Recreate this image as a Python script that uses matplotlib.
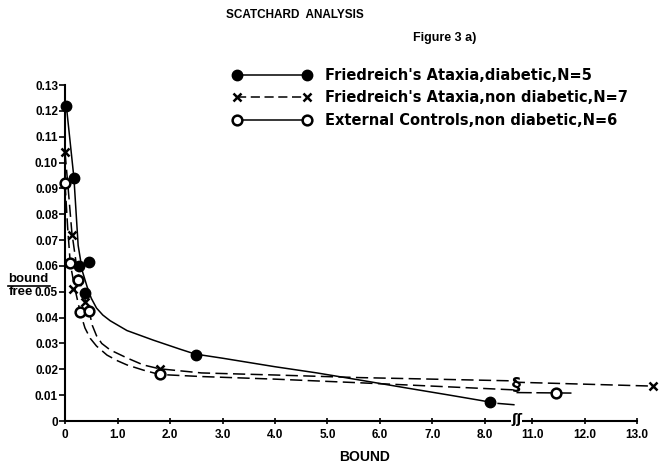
"""Scatchard analysis, Figure 3 a) - redrawn with matplotlib."""

import matplotlib

matplotlib.use("Agg")

import matplotlib.pyplot as plt
import numpy as np
from matplotlib.lines import Line2D
from matplotlib.ticker import FixedLocator

# measured points (bound, bound/free)
diab_x = [0.02, 0.17, 0.26, 0.45, 0.39, 2.5, 8.1]
diab_y = [0.122, 0.094, 0.060, 0.0615, 0.0495, 0.0257, 0.0073]

nondiab_x = [0.0, 0.13, 0.16, 0.39, 1.8, 13.3]
nondiab_y = [0.104, 0.072, 0.051, 0.046, 0.0202, 0.0135]

ctrl_x = [0.0, 0.1, 0.25, 0.29, 0.46, 1.8, 11.45]
ctrl_y = [0.092, 0.061, 0.0545, 0.042, 0.0425, 0.018, 0.0108]

# hand drawn fitted curves
diab_curve_x = [0.02, 0.17, 0.25, 0.33, 0.42, 0.5, 0.6, 0.72, 0.86, 1.18,
                1.68, 2.19, 2.48, 3.0, 4.0, 4.8, 5.6, 6.5, 7.3, 7.85, 8.1]
diab_curve_y = [0.123, 0.094, 0.068, 0.058, 0.052, 0.0475, 0.0437, 0.041,
                0.0388, 0.035, 0.0313, 0.0278, 0.0259, 0.0243, 0.021, 0.0186,
                0.0159, 0.0128, 0.0101, 0.0082, 0.0073]
diab_tail_x = [8.25, 8.55]
diab_tail_y = [0.0068, 0.0063]

nondiab_curve_x = [0.0, 0.06, 0.13, 0.22, 0.33, 0.46, 0.52, 0.6, 0.7, 0.86,
                   1.18, 1.49, 1.8, 2.6, 4.0, 5.6, 7.0, 8.6, 10.7, 13.3]
nondiab_curve_y = [0.104, 0.090, 0.073, 0.060, 0.050, 0.0425, 0.037, 0.033,
                   0.030, 0.0275, 0.0244, 0.0217, 0.0202, 0.0186, 0.0178,
                   0.0168, 0.0162, 0.0155, 0.015, 0.0135]

ctrl_curve_x = [0.0, 0.05, 0.1, 0.18, 0.29, 0.38, 0.48, 0.6, 0.8, 1.0, 1.18,
                1.49, 1.8, 2.6, 4.0, 5.6, 7.0, 8.6]
ctrl_curve_y = [0.092, 0.075, 0.061, 0.052, 0.042, 0.036, 0.032, 0.029,
                0.0255, 0.0233, 0.0217, 0.0197, 0.018, 0.0172, 0.0162,
                0.0148, 0.0135, 0.012]
ctrl_tail_x = [10.7, 11.8]
ctrl_tail_y = [0.011, 0.0108]

x_ticks = [0, 1, 2, 3, 4, 5, 6, 7, 8, 11, 12, 13]
x_tick_labels = ["0", "1.0", "2.0", "3.0", "4.0", "5.0", "6.0", "7.0", "8.0",
                 "11.0", "12.0", "13.0"]
y_ticks = [i / 100 for i in range(14)]
y_tick_labels = ["0"] + [f"0.{i:02d}" for i in range(1, 14)]

legend_labels = [
    "Friedreich's Ataxia,diabetic,N=5",
    "Friedreich's Ataxia,non diabetic,N=7",
    "External Controls,non diabetic,N=6",
]

BREAK_LO = 8.6
BREAK_HI = 10.7

plt.rcParams["font.family"] = ["Liberation Sans", "DejaVu Sans"]
plt.rcParams["font.weight"] = "bold"


def _forward(v):
    v = np.asarray(v, dtype=float)
    gap = BREAK_HI - BREAK_LO
    return np.where(v <= BREAK_LO, v, np.where(v < BREAK_HI, BREAK_LO, v - gap))


def _inverse(u):
    u = np.asarray(u, dtype=float)
    return np.where(u <= BREAK_LO, u, u + (BREAK_HI - BREAK_LO))


fig = plt.figure(figsize=(6.6, 4.63), dpi=100)
ax = fig.add_axes([0.0985, 0.0907, 0.867, 0.7257])
ax.set_xscale("function", functions=(_forward, _inverse))
ax.set_xlim(0, 13.0)
ax.set_ylim(0, 0.13)

dash = (0, (8, 3.5))
ax.plot(diab_curve_x, diab_curve_y, color="k", lw=1.1, clip_on=False)
ax.plot(diab_tail_x, diab_tail_y, color="k", lw=1.1)
ax.plot(nondiab_curve_x, nondiab_curve_y, color="k", lw=1.1, ls=dash, clip_on=False)
ax.plot(ctrl_curve_x, ctrl_curve_y, color="k", lw=1.1, ls=dash)
ax.plot(ctrl_tail_x, ctrl_tail_y, color="k", lw=1.1, ls=(0, (10, 3)))

ax.plot(diab_x, diab_y, "o", color="k", ms=7.5, clip_on=False, zorder=4)
ax.plot(nondiab_x, nondiab_y, "x", color="k", ms=6, mew=1.8, clip_on=False, zorder=4)
ax.plot(ctrl_x, ctrl_y, "o", mfc="white", mec="k", ms=7, mew=1.8,
        clip_on=False, zorder=4)

# axis break marks
ax.text(BREAK_LO, 0.0005, "ʃʃ", ha="center", va="center", fontsize=9.5,
        family="DejaVu Sans", zorder=5, clip_on=False,
        bbox=dict(fc="white", ec="none", pad=0.3))
ax.text(BREAK_LO, 0.0138, "§", ha="center", va="center", fontsize=13,
        family="DejaVu Sans", zorder=5)

ax.xaxis.set_major_locator(FixedLocator(x_ticks))
ax.set_xticklabels(x_tick_labels)
ax.set_yticks(y_ticks)
ax.set_yticklabels(y_tick_labels)
ax.xaxis.set_minor_locator(FixedLocator([]))
ax.tick_params(axis="x", direction="inout", length=5, width=1.2, labelsize=8.5, pad=3)
ax.tick_params(axis="y", direction="out", length=4, width=1.2, labelsize=8.5, pad=1)

for side in ("top", "right"):
    ax.spines[side].set_visible(False)
for side in ("left", "bottom"):
    ax.spines[side].set_linewidth(1.5)

handles = [
    Line2D([], [], color="k", lw=1.1, marker="o", ms=7.5),
    Line2D([], [], color="k", lw=1.1, ls=(0, (6, 3)), marker="x", ms=6, mew=1.8),
    Line2D([], [], color="k", lw=1.1, marker="o", mfc="white", ms=7, mew=1.8),
]
fig.legend(handles, legend_labels, loc="upper left", bbox_to_anchor=(0.352, 0.853),
           numpoints=2, handlelength=5.4, handletextpad=0.95, labelspacing=0.5,
           frameon=False, borderpad=0, borderaxespad=0,
           prop={"family": "DejaVu Sans", "size": 10.5, "weight": "bold"})

fig.text(0.447, 1 - 15.5 / 463, "SCATCHARD  ANALYSIS", ha="center", va="center",
         fontsize=8.5, weight="bold")
fig.text(0.674, 1 - 37.5 / 463, "Figure 3 a)", ha="center", va="center",
         fontsize=9, weight="bold")
fig.text(0.553, 1 - 457 / 463, "BOUND", ha="center", va="center", fontsize=10,
         weight="bold")

# bound / free label, drawn as a fraction
fig.text(8 / 660, 1 - 278.5 / 463, "bound", ha="left", va="center", fontsize=9.5,
         weight="bold")
fig.add_artist(Line2D([8 / 660, 50 / 660], [1 - 285.5 / 463, 1 - 285.5 / 463],
                      color="k", lw=1.2))
fig.text(9 / 660, 1 - 292 / 463, "free", ha="left", va="center", fontsize=9.5,
         weight="bold")

fig.savefig("out.png", dpi=100)
